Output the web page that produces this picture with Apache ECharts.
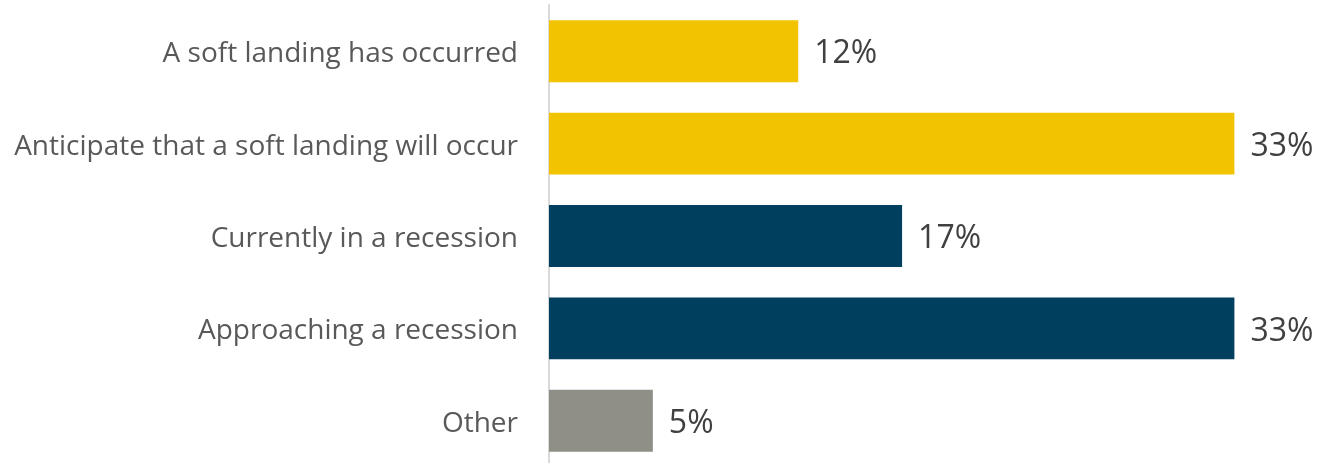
<!DOCTYPE html>
<html><head><meta charset="utf-8">
<script src="https://cdn.jsdelivr.net/npm/echarts@6/dist/echarts.min.js"></script>
<style>html,body{margin:0;padding:0;background:#fff}#c{width:1320px;height:463px}</style>
</head><body><div id="c"></div>
<script>
const categories = ["A soft landing has occurred","Anticipate that a soft landing will occur","Currently in a recession","Approaching a recession","Other"];
const values = [12, 33, 17, 33, 5];
const colors = ["#F2C300","#F2C300","#003F5E","#003F5E","#8F8F88"];
const chart = echarts.init(document.getElementById('c'));
chart.setOption({
  animation:false,
  grid:{left:549,width:747.7,top:5,height:462,containLabel:false,outerBoundsMode:'none'},
  xAxis:{type:'value',min:0,max:36,show:false},
  yAxis:{type:'category',inverse:true,data:categories,
    axisLine:{show:true,lineStyle:{color:'#D9D9D9',width:2}},
    axisTick:{show:false},
    axisLabel:{margin:31,formatter:v=>'{a|'+v+'}',
      rich:{a:{color:'#595959',fontSize:28,fontFamily:'Open Sans',padding:[6,0,0,0]}}}},
  series:[{type:'bar',barCategoryGap:'33%',
    data:values.map((v,i)=>({value:v,itemStyle:{color:colors[i]}})),
    label:{show:true,position:'right',distance:16,offset:[0,3],formatter:'{c}%',color:'#404040',fontSize:32,fontFamily:'Open Sans'}}]
});
</script></body></html>
